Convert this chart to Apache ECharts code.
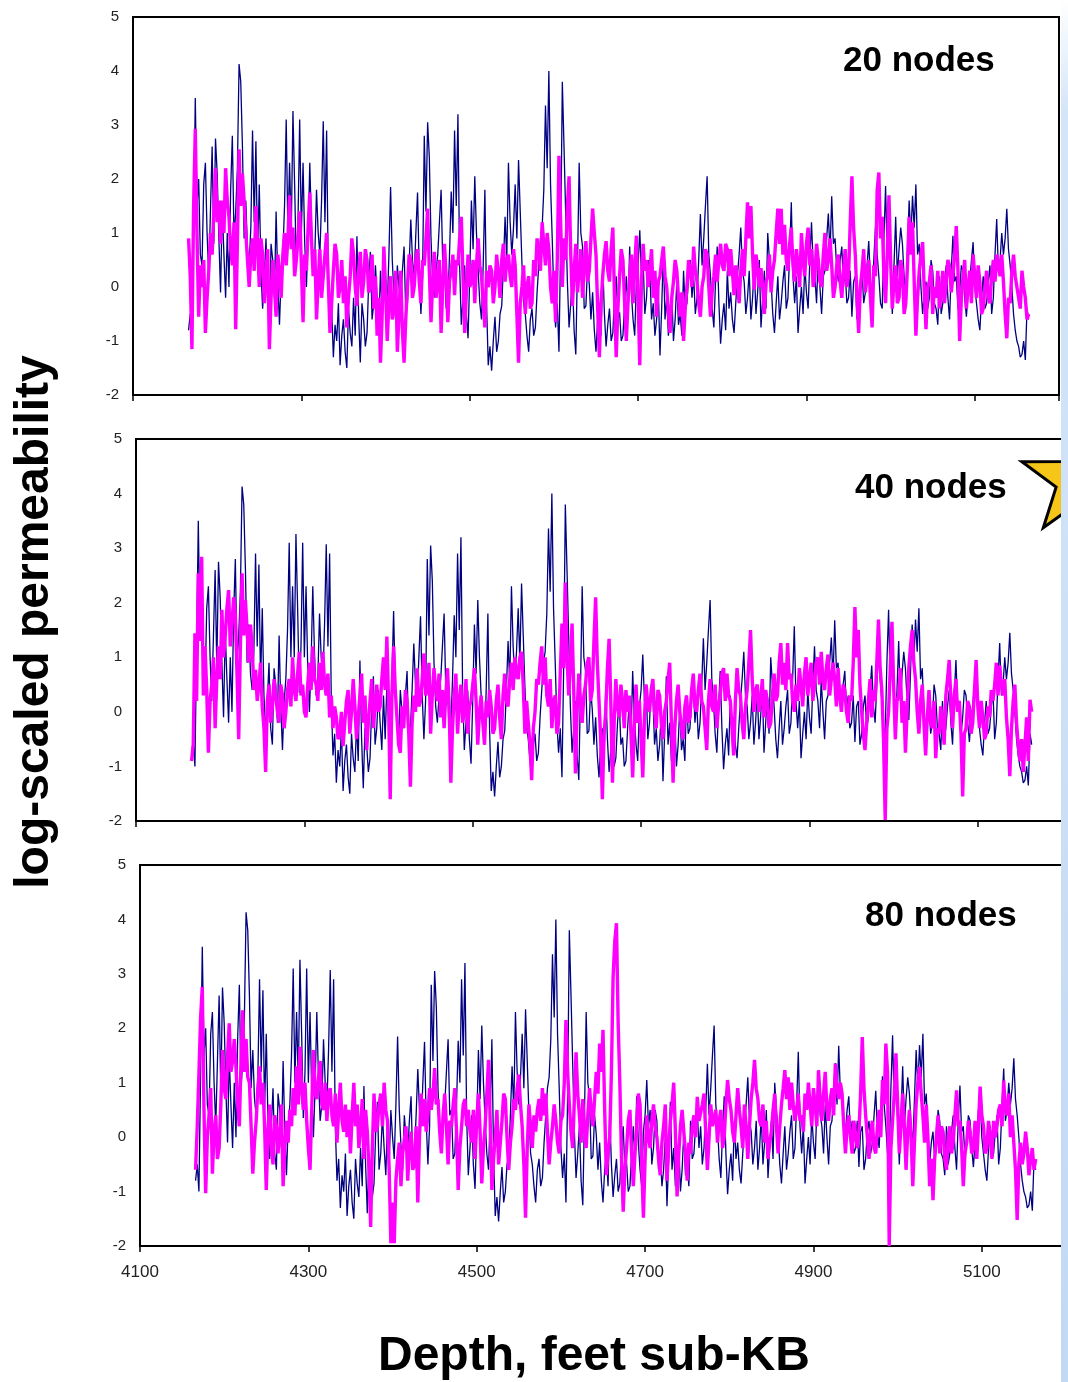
<!DOCTYPE html>
<html>
<head>
<meta charset="utf-8">
<script src="https://cdn.jsdelivr.net/npm/echarts@6/dist/echarts.min.js"></script>
<style>
  html, body { margin: 0; padding: 0; background: #fff; }
  #chart { width: 1068px; height: 1382px; }
</style>
</head>
<body>
<div id="chart"></div>
<script>
// Depth grid of the log samples (feet sub-KB)
const DEPTH_START = 4166;
const DEPTH_STEP = 2;

// Measured log-scaled permeability (same core data in every panel)
const measured = [
  -0.8, -0.5, -1.0, 1.2, 3.5, 1.5, 2.0, 0.6, 0.4, 1.9, 2.3, 1.0, 0.2, 1.4, 2.6, 0.8, 2.75, 2.1, 0.9, -0.1,
  1.5, 0.6, -0.2, 1.0, 0.0, 1.8, 2.8, 0.9, 1.4, 2.2, 4.13, 3.8, 2.6, 0.9, 1.6, 0.7, 0.4, 1.1, 2.9, 1.2,
  2.7, 0.5, 1.9, 0.3, -0.4, 0.2, 0.9, -0.3, -0.6, 0.8, 0.5, -0.2, 1.4, 0.1, -0.7, 0.2, 0.6, 1.5, 3.1, 1.0,
  2.3, 1.0, 3.26, 1.9, 0.35, 1.2, 3.1, 1.0, 2.3, 0.8, 0.0, 0.9, 2.3, 1.1, 0.3, 0.6, 1.8, 1.0, 0.6, 1.6,
  3.07, 1.2, 2.9, 0.2, -0.8, -0.4, -1.3, -0.7, -1.0, -0.3, -1.45, -0.9, -0.6, -1.2, -1.5, -0.4, -0.85, -1.1, -0.2, -0.9,
  0.94, -0.5, -1.4, -0.3, -0.6, -1.1, -0.85, 0.1, 0.65, -0.6, -0.3, 0.4, -0.2, -0.7, 0.3, -0.5, 0.5, 0.0, -0.4, 0.6,
  1.85, 0.5, -0.15, -0.6, 0.4, 0.0, -0.3, 0.3, 0.75, -0.5, -0.3, 0.4, 1.25, 0.5, 0.2, 1.0, 1.75, 0.3, -0.5, 0.2,
  2.8, 1.4, 3.05, 2.4, 0.9, 0.1, -0.2, 0.3, 0.6, 1.2, 1.8, 0.4, 0.5, -0.4, -0.3, 0.6, 1.77, 1.0, 2.9, 1.5,
  3.2, 0.4, -0.7, -0.2, 0.4, -0.5, -0.95, 0.2, 1.6, 0.7, 2.05, 1.0, 0.3, -0.3, -0.6, 0.4, 1.8, -0.3, -1.45, -1.1,
  -1.55, -1.0, -0.55, -1.2, -1.0, -0.5, -0.35, 0.4, 1.3, 0.5, 2.3, 1.2, 0.6, 1.1, 1.9, 0.9, 2.35, 1.4, 0.45, -0.3,
  -0.5, -0.9, -1.2, -0.6, -0.4, -0.9, -0.75, -0.1, 0.4, 0.9, 1.1, 1.8, 3.36, 2.2, 4.0, 1.9, 0.9, -0.2, -0.75, -0.3,
  -1.2, 0.8, 3.8, 2.6, 1.35, 0.1, -0.75, -0.3, 0.2, -0.8, -1.25, 0.4, 2.3, 1.0, 0.75, -0.4, -0.35, 0.4, 0.05, -0.6,
  -0.1, -0.8, -1.2, -0.6, -0.3, -0.9, 0.45, -0.5, -1.1, -0.7, -0.4, -1.0, -0.85, -0.2, 0.2, -0.6, -0.47, -1.0, -0.9, -0.3,
  0.2, -0.5, 0.75, -0.1, -0.6, -0.9, 0.1, 0.4, 1.05, 0.2, 0.5, -0.5, -0.2, 0.5, 0.3, -0.6, -0.3, -0.9, -0.6, 0.0,
  -1.27, -0.4, 0.65, -0.6, -0.2, -0.9, -0.5, -0.1, -1.0, -0.6, 0.1, -0.7, -0.5, -0.9, 0.3, -0.4, -0.3, 0.2, 0.5, -0.2,
  0.2, -0.5, -0.2, 0.5, 1.35, 0.4, 0.9, 1.5, 2.05, 0.6, 0.2, -0.4, -0.75, 0.1, 0.75, -0.3, -1.05, -0.6, -0.3, -0.8,
  0.3, -0.4, -0.1, -0.6, -0.85, -0.3, 0.2, 0.6, 1.1, 0.3, 0.1, -0.5, -0.2, 0.3, -0.6, -0.2, 0.4, -0.5, -0.1, 0.5,
  -0.75, -0.2, 0.3, -0.4, 1.0, 0.5, 0.1, -0.5, -0.85, -0.3, 0.2, -0.6, -0.3, 0.1, 0.4, -0.4, -0.2, 0.6, 1.57, 0.2,
  -0.3, 0.2, -0.85, -0.4, 0.0, -0.5, 0.4, -0.1, -0.4, 0.5, 1.2, 0.4, 0.2, -0.3, 0.6, 0.0, -0.5, 0.2, 0.3, 0.9,
  1.36, 0.6, 1.68, 0.8, 0.9, 0.3, 0.1, 0.5, 0.75, 0.0, 0.3, -0.3, -0.2, 0.3, -0.55, 0.1, 0.2, -0.6, -0.4, 0.1,
  0.3, -0.3, -0.1, 0.4, 0.85, 0.1, -0.2, 0.5, 1.12, 0.6, 0.2, -0.3, -0.4, 0.9, 1.87, 0.5, 1.13, 0.3, -0.5, 0.4,
  1.3, 0.2, 0.7, 1.1, 0.8, 0.2, -0.15, 0.7, 1.6, 0.9, 1.69, 1.1, 1.9, 0.6, 0.8, 0.0, -0.5, -0.1, 0.1, -0.4,
  -0.2, 0.5, 0.3, -0.3, -0.4, -0.7, 0.2, -0.5, -0.3, 0.1, 0.4, -0.2, -0.6, 0.3, 0.95, 0.1, 0.2, -0.4, -0.1, 0.4,
  0.3, -0.2, -0.55, -0.1, 0.1, 0.5, 0.83, 0.0, -0.3, -0.6, -0.8, -0.2, 0.2, -0.4, -0.3, 0.1, 0.4, -0.5, -0.2, 0.6,
  1.26, 0.3, 0.5, 1.0, 0.6, 0.9, 1.45, 0.7, 0.4, 0.0, -0.5, -0.8, -1.0, -1.1, -1.3, -1.25, -1.0, -1.35, -0.4, -0.6
];

// Network predictions, 20 hidden nodes
const predicted20 = [
  0.9, 0.2, -1.15, 1.5, 2.93, 1.0, -0.55, 0.4, 0.0, 0.5, -0.85, -0.2, 0.3, 1.0, 0.6, 1.4, 2.2, 1.2, 1.6, 0.8,
  1.6, 1.0, 2.2, 1.6, 1.3, 0.7, 0.4, 1.2, -0.78, 0.8, 2.55, 1.5, 2.1, 1.6, 1.0, 0.5, 0.0, 0.6, 0.9, 0.3,
  1.5, 0.8, 0.0, 0.9, 0.6, -0.3, 0.2, 0.7, -1.15, -0.2, 0.5, 0.0, -0.55, 0.6, 0.3, -0.2, 0.6, 1.0, 0.4, 0.9,
  1.7, 0.7, 1.1, 0.2, 0.5, 0.9, 1.4, 0.4, -0.65, 0.6, 0.3, 1.1, 1.75, 0.9, 0.2, 0.7, -0.6, 0.1, 0.7, -0.2,
  0.2, 0.6, 1.0, 0.1, -0.85, -0.3, 0.3, 0.8, 0.6, -0.2, 0.0, 0.5, -0.3, 0.2, -0.75, -0.2, 0.2, 0.9, 0.6, 0.0,
  -0.35, 0.3, 0.65, -0.2, 0.1, 0.7, 0.5, -0.1, 0.0, 0.6, -0.4, 0.2, -0.9, -0.2, -1.4, -0.5, 0.75, 0.0, -1.0, -0.3,
  0.2, -0.6, -0.4, 0.3, -1.2, -0.5, 0.3, -0.8, -1.4, -0.6, 0.0, 0.6, 0.5, -0.2, 0.0, 0.5, 0.7, 0.1, -0.3, 0.5,
  0.4, 0.9, 1.45, 0.3, -0.65, 0.1, 0.65, -0.2, 0.1, 0.5, -0.85, 0.0, 0.8, 0.2, -0.65, 0.1, 0.3, 0.6, -0.15, 0.5,
  0.4, 0.9, 1.3, 0.2, -0.85, -0.1, 0.6, 0.0, 0.1, 0.5, -0.3, 0.4, 0.9, 0.4, 0.2, -0.3, -0.75, 0.3, 0.0, 0.4,
  0.3, -0.3, 0.0, 0.6, 0.25, -0.2, 0.5, 0.8, 0.1, 0.5, 0.6, 0.2, 0.0, 0.7, 0.4, -0.5, -1.4, -0.3, 0.0, 0.4,
  -0.5, 0.0, 0.2, -0.4, -0.3, 0.5, 0.2, 0.9, 0.7, 0.3, 1.2, 0.8, 0.4, 1.0, 0.7, 0.0, -0.3, 0.3, -0.65, 0.5,
  2.43, 1.2, 0.0, 0.9, 0.5, 1.5, 2.05, 0.6, -0.35, 0.3, 0.8, -0.1, 0.3, 0.7, -0.2, 0.4, 0.85, 0.1, 0.3, 0.9,
  1.45, 1.0, 0.6, -0.4, -1.3, -0.3, 0.2, 0.6, 0.85, 0.3, 0.1, 0.7, 1.1, -0.2, -1.3, -0.4, 0.2, 0.7, 0.5, -0.3,
  -1.0, -0.3, 0.2, 0.6, -0.3, 0.4, 0.95, -0.2, -1.45, 0.1, 0.8, 0.3, 0.5, 0.0, 0.3, 0.7, -0.2, 0.3, -0.55, 0.1,
  0.2, 0.5, 0.75, 0.2, 0.0, -0.5, -0.85, -0.2, 0.1, 0.5, 0.3, -0.2, -0.55, -0.1, -1.0, -0.4, 0.0, 0.5, 0.3, 0.0,
  0.75, 0.3, 0.1, -0.3, -0.55, 0.0, 0.2, 0.7, 0.6, 0.0, -0.55, -0.1, 0.2, 0.6, 0.1, 0.5, 0.8, 0.4, 0.3, 0.8,
  0.7, 0.2, 0.7, 0.3, -0.15, 0.4, 0.1, -0.3, 0.3, 0.7, 0.2, 0.9, 1.57, 0.9, 1.5, 0.6, -0.05, 0.6, 0.4, 0.0,
  0.35, 0.0, -0.5, 0.1, 0.2, 0.6, -0.1, 0.3, 0.5, 1.0, 1.45, 0.8, 1.45, 0.6, 1.15, 0.5, 0.3, 0.8, 1.1, 0.4,
  0.1, 0.7, 0.4, 0.0, 1.0, 0.5, 0.2, 0.8, 1.1, 0.4, 0.7, 0.0, 0.2, 0.8, 0.5, 0.1, 0.0, 0.6, 1.0, 0.3,
  0.5, 0.9, 0.4, -0.2, 0.0, 0.4, 0.6, 0.1, -0.2, 0.3, 0.7, 0.0, 0.2, 1.2, 2.05, 1.1, 0.6, -0.2, -0.85, 0.0,
  0.3, 0.7, -0.1, 0.2, 0.5, -0.2, -0.75, 0.4, 0.2, 1.8, 2.12, 0.9, 1.3, 0.2, -0.3, 0.6, 1.7, 0.5, -0.4, 0.1,
  0.4, -0.3, -0.2, 0.5, 0.3, -0.5, -0.3, 0.4, 1.3, 0.6, 1.2, 0.1, -0.9, -0.2, 0.3, 0.6, 0.83, -0.1, -0.78, 0.0,
  0.1, 0.4, -0.5, 0.0, -0.2, 0.3, -0.4, -0.1, 0.3, -0.3, 0.1, 0.5, 0.4, -0.1, 0.2, 0.6, 1.13, 0.3, -1.0, -0.2,
  0.2, 0.5, -0.4, 0.0, 0.3, -0.3, 0.6, 0.2, -0.2, 0.4, 0.1, -0.5, -0.4, 0.0, 0.3, -0.2, -0.3, 0.2, 0.5, 0.1,
  0.6, 0.4, 0.2, 0.6, 0.1, -0.5, -0.95, -0.2, -0.3, 0.3, 0.6, 0.2, 0.0, -0.2, -0.4, 0.3, 0.0, -0.2, -0.6, -0.5
];

// Network predictions, 40 hidden nodes
const predicted40 = [
  -0.9, -0.6, 1.44, 0.2, 2.54, 1.3, 2.84, 0.3, 1.2, 0.4, -0.75, 0.2, 0.5, 1.0, -0.3, 0.6, 1.2, 0.6, 1.87, 1.0,
  1.4, 1.9, 2.23, 1.2, 1.6, 2.1, 1.8, 0.7, -0.5, 1.2, 2.54, 1.4, 2.05, 1.5, 0.9, 1.6, 1.2, 0.4, 0.77, 0.2,
  0.5, 0.9, 0.1, -0.3, -1.1, 0.2, 0.5, -0.2, 0.1, 0.6, 0.3, 0.0, -0.2, 0.5, 0.3, -0.3, 0.0, 0.4, 0.6, 0.1,
  1.0, 0.4, 0.2, 0.7, 1.1, 0.3, 0.5, 0.0, -0.1, 0.5, 0.9, 0.4, 1.2, 0.6, 0.5, 0.2, 0.9, 0.4, 1.1, 0.5,
  0.3, 0.7, -0.1, 0.3, -0.3, 0.1, -0.1, -0.5, -0.4, 0.0, -0.63, -0.2, 0.2, 0.4, -0.4, 0.0, 0.6, 0.1, -0.5, -0.1,
  0.3, 0.7, -0.2, 0.3, -0.7, -0.2, 0.2, 0.6, -0.3, 0.1, 0.5, 0.0, 0.1, 0.6, 1.0, 0.4, 1.38, 0.2, -1.6, 0.3,
  1.2, 0.4, -0.1, -0.6, -0.75, 0.1, -0.3, 0.4, 0.2, -0.4, -1.37, -0.2, 0.3, 0.0, 0.8, 0.1, 0.2, 0.6, 1.07, 0.3,
  0.4, 0.9, -0.4, 0.3, 0.8, 0.4, 0.2, 0.7, -0.1, 0.4, -0.3, 0.3, 0.8, 0.1, -1.3, -0.3, 0.3, 0.7, -0.4, 0.2,
  0.5, -0.2, 0.0, 0.6, -0.4, 0.1, 0.2, 0.5, 0.8, 0.2, -0.6, 0.0, 0.3, -0.2, -0.6, 0.2, -0.1, 0.4, 0.1, -0.4,
  -0.3, 0.2, 0.5, -0.1, -0.5, 0.3, 0.7, 0.2, 0.1, 0.6, 0.9, 0.4, 1.0, 0.7, 0.6, 1.0, 1.1, 0.5, -0.4, 0.2,
  -0.2, -0.6, -1.25, -0.3, 0.0, 0.6, 0.5, 0.9, 1.2, 0.5, 1.0, 0.3, 0.1, 0.6, -0.3, 0.2, 0.3, -0.4, -0.2, 0.7,
  1.62, 0.8, 2.37, 1.0, 0.3, 0.9, 1.62, 0.4, -1.13, 0.0, 0.7, 0.2, -0.2, 0.3, 0.5, 0.9, 1.0, 0.2, 0.4, 1.3,
  2.1, 0.9, 0.2, -0.5, -1.6, -0.4, 0.0, 0.8, 1.34, 0.2, -1.3, -0.2, 0.6, 0.1, -0.1, 0.5, 0.2, -0.3, 0.4, 0.0,
  0.3, -0.4, -1.2, -0.2, 0.5, -0.2, 0.2, -0.5, -1.2, -0.1, 0.5, 0.1, 0.0, 0.4, 0.6, 0.0, -0.3, 0.4, 0.3, -0.2,
  -0.5, 0.0, 0.2, 0.6, 0.9, -0.2, -1.3, -0.3, 0.2, 0.5, 0.0, -0.3, -0.5, 0.1, 0.3, -0.2, -0.1, 0.4, 0.7, 0.1,
  0.0, 0.4, 0.7, 0.2, 0.1, -0.3, -0.7, 0.2, 0.6, 0.1, 0.0, 0.5, -0.3, 0.1, 0.3, 0.7, 0.8, 0.2, 0.7, 0.3,
  0.2, -0.3, -0.8, 0.2, 0.8, 0.4, 0.3, -0.2, -0.5, 0.1, 0.4, 0.9, 1.5, 0.6, 0.0, 0.4, 0.5, 0.0, 0.2, 0.6,
  -0.1, 0.4, 0.2, -0.3, -0.2, 0.3, 0.7, 0.2, 0.3, 0.9, 1.26, 0.5, 0.9, 0.4, 1.26, 0.6, 0.7, 0.2, 0.0, 0.5,
  0.2, 0.8, 0.5, 0.1, 0.7, 1.0, 0.3, 0.6, 0.9, 0.2, 0.5, 0.9, 1.0, 0.5, 1.1, 0.6, 0.4, 0.8, 1.05, 0.3,
  0.3, 0.9, 0.6, 0.1, 0.8, 0.3, 0.0, 0.5, 0.4, 0.0, -0.2, 0.3, 0.2, 0.9, 1.92, 1.0, 1.5, 0.5, 0.0, -0.4,
  -0.7, -0.2, 0.2, 0.6, -0.1, 0.4, 0.2, 0.9, 1.69, 0.8, 0.4, -0.5, -1.98, -0.3, 0.0, 0.8, 1.65, 0.5, -0.5, 0.2,
  0.3, 0.8, -0.2, 0.2, -0.75, 0.0, 0.8, 1.2, 1.5, 0.9, 0.6, 0.0, -0.4, 0.2, 0.5, -0.2, -0.8, -0.1, 0.4, -0.2,
  -0.3, 0.2, -0.85, -0.3, -0.4, 0.1, -0.2, -0.6, 0.3, 0.6, 0.95, 0.2, -0.3, 0.3, 0.6, 0.0, 0.2, -0.4, -1.55, -0.4,
  -0.3, 0.2, 0.1, -0.4, -0.2, 0.4, 0.95, 0.1, -0.3, 0.2, -0.1, -0.5, -0.4, 0.1, -0.1, 0.4, 0.2, 0.5, 0.9, 0.3,
  0.85, 0.5, 0.3, 0.6, -0.1, -0.5, -1.18, -0.3, 0.2, 0.5, -0.2, -0.6, -0.9, -0.5, -1.1, -0.6, -0.1, -0.9, 0.22, 0.0
];

// Network predictions, 80 hidden nodes
const predicted80 = [
  -0.6, 0.2, 1.17, 2.2, 2.76, 0.5, -1.03, 0.0, 0.4, 0.9, -0.67, 0.1, 0.4, -0.4, -0.2, 0.6, 1.6, 0.9, 0.7, 1.5,
  2.09, 1.2, 1.4, 1.8, 1.3, 0.6, 0.2, 1.4, 2.33, 1.2, 1.8, 1.1, 1.0, 0.2, -0.67, -0.1, 0.3, 0.9, 1.3, 0.6,
  1.0, 0.2, -0.97, 0.1, 0.6, -0.2, -0.5, 0.4, 0.2, -0.3, 0.1, 0.6, -0.9, -0.2, 0.3, -0.1, 0.5, 0.2, 0.9, 0.4,
  1.3, 0.6, 1.66, 0.9, 0.5, 1.0, 0.3, -0.2, -0.6, 0.5, 1.6, 0.8, 0.7, 1.1, 1.4, 0.6, 0.5, 1.0, 0.3, 0.8,
  0.9, 0.4, 0.2, 0.8, -0.1, 0.5, 1.0, 0.3, 0.1, 0.6, 0.0, 0.5, -0.3, 0.4, 1.0, 0.2, 0.6, -0.2, 0.2, 0.7,
  -0.4, 0.5, 0.1, -0.6, -1.65, -0.2, 0.8, 0.1, 0.2, 0.6, 0.8, 0.2, 1.0, 0.5, 0.3, -0.6, -1.95, -1.2, -1.95, -0.8,
  -0.4, -0.1, -0.9, -0.3, -0.3, 0.2, -0.8, -0.2, 0.1, -0.6, -0.5, 0.2, -1.2, 0.0, 0.8, 0.2, 0.7, 0.1, 0.4, 0.9,
  0.5, 0.8, 1.27, 0.6, 0.7, 0.1, -0.3, 0.4, 0.8, 0.2, -0.5, 0.3, 0.2, 0.6, 0.9, 0.1, -0.97, -0.2, 0.2, 0.6,
  0.7, 0.2, 0.5, 0.1, -0.1, 0.5, -0.4, 0.3, 0.8, 0.1, -0.85, -0.2, 0.2, 0.8, 1.42, 0.3, -0.97, -0.4, 0.0, 0.5,
  -0.5, -0.1, 0.3, 0.8, 0.7, 0.0, -0.6, -0.1, 0.2, 0.7, 0.5, 0.9, 1.15, 0.6, 0.2, -0.5, -1.48, -0.2, 0.6, 0.2,
  -0.2, 0.4, 0.1, 0.5, 0.7, 0.3, 0.9, 0.4, 0.8, 0.1, -0.5, -0.1, 0.2, 0.6, 0.3, -0.1, -0.3, 0.3, 0.4, 1.0,
  2.15, 1.2, 0.6, 0.1, -0.2, 0.7, 1.56, 0.8, 0.4, -0.1, 0.7, 0.2, -0.2, 0.4, 0.9, 0.5, 0.2, 0.7, 1.2, 0.8,
  1.72, 1.2, 1.97, 0.5, -0.7, -0.3, 0.0, 1.2, 2.94, 3.6, 3.93, 2.1, 1.0, -0.4, -1.37, -0.6, -0.2, 0.3, 0.5, -0.3,
  -0.9, -0.3, 0.2, 0.8, 0.6, -0.5, -1.48, -0.4, 0.4, 0.0, -0.2, 0.3, 0.6, 0.2, 0.0, -0.4, -0.7, -0.1, 0.2, 0.6,
  -0.8, -0.2, 0.3, 0.6, 1.0, 0.1, -1.09, -0.3, 0.2, 0.5, 0.1, -0.3, -0.8, -0.1, -0.3, 0.2, 0.4, 0.0, 0.74, 0.3,
  0.3, 0.6, 0.8, 0.1, -0.6, 0.0, 0.6, 0.2, 0.2, 0.5, -0.1, 0.3, 0.5, -0.2, 0.0, 0.6, 1.05, 0.7, 0.5, 0.1,
  -0.1, 0.4, 0.9, 0.5, 0.2, -0.2, 0.6, 0.2, -0.4, 0.2, 0.7, 1.0, 1.42, 0.9, 0.7, 0.3, 0.2, 0.6, -0.1, 0.3,
  -0.4, -0.1, 0.1, 0.5, 0.8, 0.2, -0.3, 0.2, 0.6, 0.9, 1.23, 0.7, 1.1, 0.5, 1.0, 0.6, 0.3, 0.5, 0.8, 0.3,
  0.4, 0.1, 0.8, 0.5, 1.0, 0.6, 0.2, 0.9, 0.6, 0.2, 1.23, 0.7, 0.3, 0.8, 1.2, 0.5, 0.3, 0.7, 0.9, 0.4,
  1.35, 0.9, 0.7, 1.0, 0.8, 0.2, -0.3, 0.2, 0.4, 0.0, -0.3, 0.3, 0.3, -0.2, 0.1, 0.8, 1.84, 0.9, 0.4, 0.0,
  -0.4, 0.1, 0.3, -0.2, -0.3, 0.2, 0.5, 0.0, 1.05, 0.6, 1.72, 1.2, -2.0, -0.2, 0.3, 0.8, 1.54, 0.6, -0.3, 0.2,
  0.8, 0.2, -0.6, 0.1, 0.5, 0.0, -0.9, -0.1, 0.6, 1.0, 1.29, 0.8, 0.4, -0.1, 0.6, 0.0, -0.9, -0.4, -1.16, -0.4,
  0.0, 0.4, -0.3, 0.2, 0.1, -0.4, -0.6, 0.0, 0.2, -0.3, -0.1, 0.4, 0.86, 0.2, 0.3, -0.2, -0.9, -0.3, -0.1, 0.3,
  0.1, -0.3, -0.2, 0.3, -0.4, 0.2, 0.93, 0.4, 0.2, -0.3, -0.2, 0.3, 0.0, -0.4, 0.3, 0.0, 0.2, 0.5, 0.6, 0.2,
  1.04, 0.5, 0.4, 0.8, 0.0, 0.4, -0.1, -0.6, -1.52, -0.5, -0.1, -0.5, -0.3, 0.1, -0.2, -0.7, -0.4, -0.2, -0.6, -0.4
];

const panelLabels = ['20 nodes', '40 nodes', '80 nodes'];
const predictedSets = [predicted20, predicted40, predicted80];

// Axis ranges
const DEPTH_MIN = 4100, DEPTH_MAX = 5200, DEPTH_TICK = 200;
const PERM_MIN = -2, PERM_MAX = 5, PERM_TICK = 1;

// Panel layout (pixels)
const PLOT_WIDTH = 926;
const panelBoxes = [
  { left: 133, top: 17, height: 378, labelX: 843, labelY: 61 },
  { left: 136, top: 439, height: 382, labelX: 855, labelY: 488 },
  { left: 140, top: 865, height: 381, labelX: 865, labelY: 916 }
];

const FONT = '"Liberation Sans", Arial, sans-serif';
const toPoints = vals => vals.map((v, i) => [DEPTH_START + i * DEPTH_STEP, v]);

const chart = echarts.init(document.getElementById('chart'), null, { renderer: 'canvas' });

const series = [];
panelBoxes.forEach((b, k) => {
  series.push({
    type: 'line', xAxisIndex: k, yAxisIndex: k,
    data: toPoints(measured),
    showSymbol: false, symbol: 'none', clip: true, z: 2,
    lineStyle: { color: '#000080', width: 1.3 }
  });
  series.push({
    type: 'line', xAxisIndex: k, yAxisIndex: k,
    data: toPoints(predictedSets[k]),
    showSymbol: false, symbol: 'none', clip: true, z: 3,
    lineStyle: { color: '#ff00ff', width: 3.4 }
  });
});

// Decorative star, partly off the right edge
const starCx = 1078, starCy = 480, starR = 59, starr = 23;
const starPts = [];
for (let j = 0; j < 10; j++) {
  const ang = -Math.PI / 2 + j * Math.PI / 5;
  const rad = j % 2 === 0 ? starR : starr;
  starPts.push([starCx + rad * Math.cos(ang), starCy + rad * Math.sin(ang)]);
}

const graphic = [
  {
    type: 'text', x: 35, y: 622, rotation: Math.PI / 2, z: 50,
    style: { text: 'log-scaled permeability', font: 'bold 48px ' + FONT, fill: '#000', textAlign: 'center', textVerticalAlign: 'middle' }
  },
  {
    type: 'text', x: 594, y: 1357, z: 50,
    style: { text: 'Depth, feet sub-KB', font: 'bold 48px ' + FONT, fill: '#000', textAlign: 'center', textVerticalAlign: 'middle' }
  },
  {
    type: 'polygon', z: 90,
    shape: { points: starPts },
    style: { fill: '#f5c518', stroke: '#000', lineWidth: 3 }
  },
  {
    type: 'rect', z: 100,
    shape: { x: 1061, y: 0, width: 7, height: 1382 },
    style: {
      fill: new echarts.graphic.LinearGradient(0, 0, 0, 1, [
        { offset: 0, color: '#ffffff' },
        { offset: 0.08, color: '#d4e5f8' },
        { offset: 1, color: '#c2d9f3' }
      ])
    }
  }
];
panelBoxes.forEach((b, k) => {
  graphic.push({
    type: 'text', x: b.labelX, y: b.labelY, z: 50,
    style: { text: panelLabels[k], font: 'bold 35px ' + FONT, fill: '#000', textAlign: 'left', textVerticalAlign: 'middle' }
  });
});

chart.setOption({
  animation: false,
  backgroundColor: '#ffffff',
  grid: panelBoxes.map(b => ({
    left: b.left, top: b.top, width: PLOT_WIDTH, height: b.height,
    show: true, borderColor: '#000', borderWidth: 2, backgroundColor: 'transparent'
  })),
  xAxis: panelBoxes.map((b, k) => ({
    type: 'value', gridIndex: k,
    min: DEPTH_MIN, max: DEPTH_MAX, interval: DEPTH_TICK,
    axisLine: { show: true, onZero: false, lineStyle: { color: '#000', width: 2 } },
    axisTick: { show: true, length: 6, lineStyle: { color: '#000', width: 1.5 } },
    axisLabel: {
      show: k === 2, color: '#222', fontSize: 17, fontFamily: FONT, margin: 18,
      showMaxLabel: false, formatter: v => String(v)
    },
    splitLine: { show: false }
  })),
  yAxis: panelBoxes.map((b, k) => ({
    type: 'value', gridIndex: k,
    min: PERM_MIN, max: PERM_MAX, interval: PERM_TICK,
    axisLine: { show: true, onZero: false, lineStyle: { color: '#000', width: 2 } },
    axisTick: { show: false },
    axisLabel: { color: '#222', fontSize: 15, fontFamily: FONT, margin: 14 },
    splitLine: { show: false }
  })),
  series: series,
  graphic: graphic
});
</script>
</body>
</html>
